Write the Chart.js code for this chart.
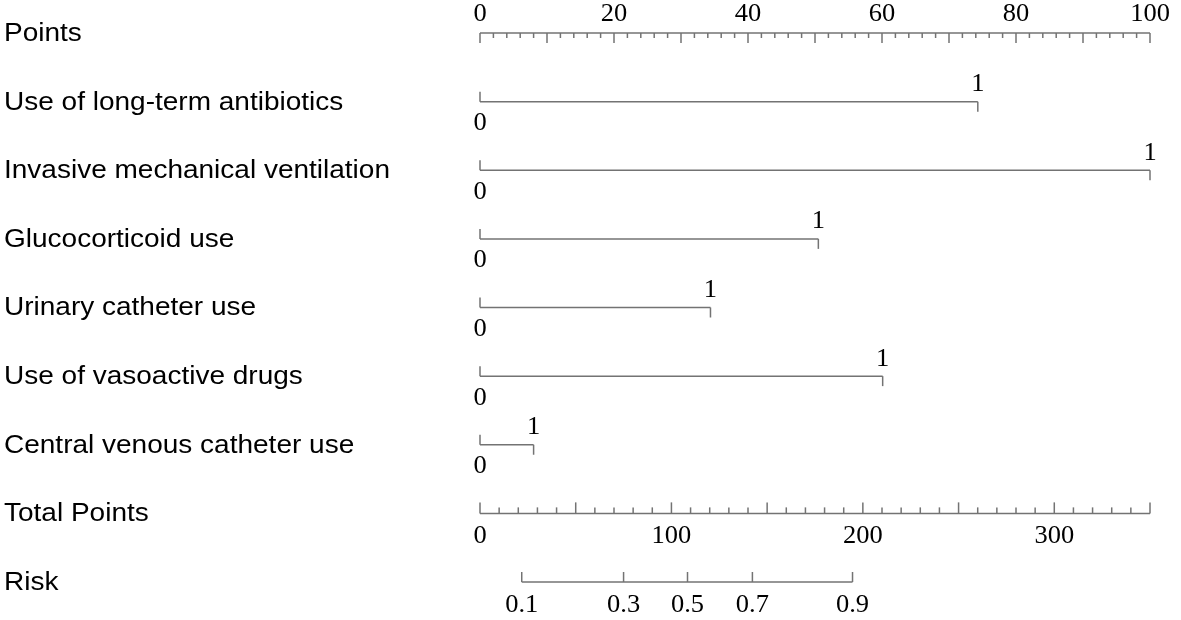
<!DOCTYPE html>
<html>
<head>
<meta charset="utf-8">
<script src="https://cdn.jsdelivr.net/npm/chart.js@4"></script>
<style>
html,body{margin:0;padding:0;background:#fff;}
#wrap{width:1181px;height:620px;}
</style>
</head>
<body>
<div id="wrap"><canvas id="c" width="1181" height="620"></canvas></div>
<script>
// ---- data ----
const rowLabels = ["Points","Use of long-term antibiotics","Invasive mechanical ventilation","Glucocorticoid use","Urinary catheter use","Use of vasoactive drugs","Central venous catheter use","Total Points","Risk"];
const variables = ["Use of long-term antibiotics","Invasive mechanical ventilation","Glucocorticoid use","Urinary catheter use","Use of vasoactive drugs","Central venous catheter use"];
const pointsForOne = [74.3, 100, 50.5, 34.4, 60.1, 8.0];
const pointsTickLabels = [0, 20, 40, 60, 80, 100];
const totalTickLabels = [0, 100, 200, 300];
const totalMax = 350;
const riskLabels = ["0.1","0.3","0.5","0.7","0.9"];
const riskPositions = [21.8, 75.0, 108.4, 142.3, 194.6]; // in total points

const LINE = '#737373';
const SERIF = '25px "Liberation Serif", "Times New Roman", serif';
const SANS = '25px "Liberation Sans", Arial, sans-serif';

const datasets = variables.map((name, i) => ({
  label: name,
  data: [{x: 0, y: i + 1}, {x: pointsForOne[i], y: i + 1}],
  borderColor: LINE,
  borderWidth: 1.5,
  pointRadius: 0,
  xAxisID: 'x', yAxisID: 'y'
}));

function text(ctx, t, px, py, sx) {
  ctx.save();
  ctx.translate(px, py);
  ctx.scale(sx, 1);
  ctx.fillText(t, 0, 0);
  ctx.restore();
}

const nomoPlugin = {
  id: 'nomo',
  afterDatasetsDraw(chart) {
    const ctx = chart.ctx;
    const x = chart.scales.x, x2 = chart.scales.x2, y = chart.scales.y;
    const seg = (ax, ay, bx, by) => { ctx.beginPath(); ctx.moveTo(ax, ay); ctx.lineTo(bx, by); ctx.stroke(); };
    ctx.save();
    ctx.strokeStyle = LINE;
    ctx.lineWidth = 1.5;
    // left labels
    ctx.fillStyle = '#000';
    ctx.font = SANS;
    ctx.textAlign = 'left';
    ctx.textBaseline = 'middle';
    rowLabels.forEach((t, i) => text(ctx, t, 4, y.getPixelForValue(i) + 1, 1.12));

    // Points axis
    const py = y.getPixelForValue(0);
    seg(x.getPixelForValue(0), py, x.getPixelForValue(100), py);
    for (let v = 0; v <= 100; v += 2) {
      const px = x.getPixelForValue(v);
      const major = v % 10 === 0;
      seg(px, py, px, py + (major ? 10 : 5));
    }
    ctx.font = SERIF;
    ctx.textAlign = 'center';
    ctx.textBaseline = 'middle';
    const SX = 1.06;
    pointsTickLabels.forEach(v => text(ctx, String(v), x.getPixelForValue(v), py - 19, SX));

    // variable rows: end ticks and labels
    variables.forEach((name, i) => {
      const ry = y.getPixelForValue(i + 1);
      const x0 = x.getPixelForValue(0), x1 = x.getPixelForValue(pointsForOne[i]);
      seg(x0, ry, x0, ry - 10);
      seg(x1, ry, x1, ry + 10);
      text(ctx, "0", x0, ry + 22, SX);
      text(ctx, "1", x1, ry - 17, SX);
    });

    // Total points axis
    const ty = y.getPixelForValue(7);
    seg(x2.getPixelForValue(0), ty, x2.getPixelForValue(totalMax), ty);
    for (let v = 0; v <= totalMax; v += 10) {
      const px = x2.getPixelForValue(v);
      const major = v % 50 === 0;
      seg(px, ty, px, ty - (major ? 11 : 6));
    }
    totalTickLabels.forEach(v => text(ctx, String(v), x2.getPixelForValue(v), ty + 23, SX));

    // Risk axis
    const ky = y.getPixelForValue(8);
    seg(x2.getPixelForValue(riskPositions[0]), ky, x2.getPixelForValue(riskPositions[riskPositions.length - 1]), ky);
    riskPositions.forEach((v, i) => {
      const px = x2.getPixelForValue(v);
      seg(px, ky, px, ky - 10);
      text(ctx, riskLabels[i], px, ky + 23, SX);
    });
    ctx.restore();
  }
};

new Chart(document.getElementById('c'), {
  type: 'line',
  data: { datasets },
  options: {
    responsive: false,
    animation: false,
    devicePixelRatio: 1,
    layout: { padding: { left: 480, right: 31, top: 33, bottom: 38 } },
    plugins: { legend: { display: false }, tooltip: { enabled: false } },
    scales: {
      x: { type: 'linear', min: 0, max: 100, display: false },
      x2: { type: 'linear', min: 0, max: totalMax, display: false },
      y: { type: 'linear', min: 0, max: 8, reverse: true, display: false }
    }
  },
  plugins: [nomoPlugin]
});
</script>
</body>
</html>
